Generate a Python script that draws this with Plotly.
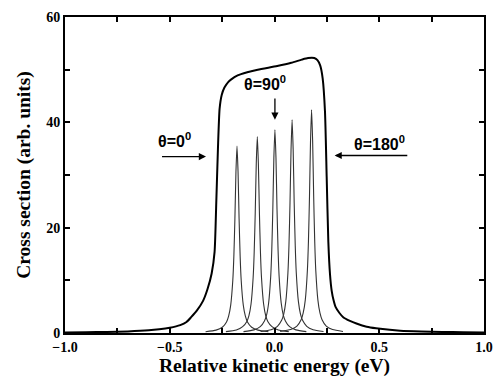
import plotly.graph_objects as go

# Envelope (total cross section)
env_x = [-1.0, -0.9, -0.8, -0.7, -0.6, -0.55, -0.5, -0.45, -0.42, -0.398, -0.37, -0.341,
         -0.32, -0.30, -0.286, -0.278, -0.27, -0.262, -0.252, -0.239, -0.222, -0.208,
         -0.176, -0.13, -0.08, 0.013, 0.08, 0.13, 0.16, 0.19, 0.205, 0.218, 0.23, 0.241,
         0.249, 0.257, 0.265, 0.273, 0.282, 0.292, 0.31, 0.328, 0.36, 0.391, 0.44, 0.485,
         0.55, 0.6, 0.7, 0.8, 0.9, 1.0]
env_y = [0.1, 0.15, 0.2, 0.3, 0.5, 0.7, 1.0, 1.5, 2.1, 3.0, 4.3, 6.1,
         8.3, 11.3, 15.4, 24.7, 35.0, 42.6, 45.2, 46.6, 47.6, 48.1,
         48.9, 49.5, 50.0, 50.7, 51.3, 51.9, 52.2, 52.2, 51.8, 50.8, 48.3, 42.0,
         29.7, 17.3, 11.1, 8.0, 6.2, 4.9, 3.8, 3.0, 2.3, 1.8, 1.2, 0.9,
         0.6, 0.45, 0.3, 0.2, 0.15, 0.1]

# Individual angle-resolved peaks
p1_x = [-0.329, -0.279, -0.249, -0.229, -0.219, -0.209, -0.199, -0.194, -0.189, -0.184, -0.179,
        -0.174, -0.169, -0.164, -0.159, -0.149, -0.139, -0.129, -0.109, -0.079, -0.029]
p1_y = [0.25, 0.55, 1.1, 2.1, 3.2, 5.3, 10.0, 14.6, 21.7, 30.6, 35.5,
        30.6, 21.7, 14.6, 10.0, 5.3, 3.2, 2.1, 1.1, 0.55, 0.25]
p2_x = [-0.232, -0.182, -0.152, -0.132, -0.122, -0.112, -0.102, -0.097, -0.092, -0.087, -0.082,
        -0.077, -0.072, -0.067, -0.062, -0.052, -0.042, -0.032, -0.012, 0.018, 0.068]
p2_y = [0.26, 0.57, 1.2, 2.2, 3.3, 5.5, 10.5, 15.3, 22.8, 32.2, 37.3,
        32.2, 22.8, 15.3, 10.5, 5.5, 3.3, 2.2, 1.2, 0.57, 0.26]
p3_x = [-0.148, -0.098, -0.068, -0.048, -0.038, -0.028, -0.018, -0.013, -0.008, -0.003, 0.002,
        0.007, 0.012, 0.017, 0.022, 0.032, 0.042, 0.052, 0.072, 0.102, 0.152]
p3_y = [0.27, 0.59, 1.2, 2.3, 3.4, 5.7, 10.8, 15.8, 23.5, 33.3, 38.6,
        33.3, 23.5, 15.8, 10.8, 5.7, 3.4, 2.3, 1.2, 0.59, 0.27]
p4_x = [-0.066, -0.016, 0.014, 0.034, 0.044, 0.054, 0.064, 0.069, 0.074, 0.079, 0.084,
        0.089, 0.094, 0.099, 0.104, 0.114, 0.124, 0.134, 0.154, 0.184, 0.234]
p4_y = [0.28, 0.62, 1.26, 2.4, 3.6, 6.0, 11.4, 16.6, 24.7, 34.9, 40.5,
        34.9, 24.7, 16.6, 11.4, 6.0, 3.6, 2.4, 1.26, 0.62, 0.28]
p5_x = [0.027, 0.077, 0.107, 0.127, 0.137, 0.147, 0.157, 0.162, 0.167, 0.172, 0.177,
        0.182, 0.187, 0.192, 0.197, 0.207, 0.217, 0.227, 0.247, 0.277, 0.327]
p5_y = [0.29, 0.65, 1.3, 2.5, 3.8, 6.3, 11.9, 17.4, 25.9, 36.5, 42.4,
        36.5, 25.9, 17.4, 11.9, 6.3, 3.8, 2.5, 1.3, 0.65, 0.29]

x_tickvals = [-1.0, -0.5, 0.0, 0.5, 1.0]
x_ticktext = ["\u22121.0", "\u22120.5", "0.0", "0.5", "1.0"]
x_minorvals = [-0.75, -0.25, 0.25, 0.75]
y_tickvals = [0, 20, 40, 60]
y_ticktext = ["0", "20", "40", "60"]
y_minorvals = [10, 30, 50]

fig = go.Figure()
for px, py in [(p1_x, p1_y), (p2_x, p2_y), (p3_x, p3_y), (p4_x, p4_y), (p5_x, p5_y)]:
    fig.add_trace(go.Scatter(x=px, y=py, mode="lines",
                             line=dict(color="#333333", width=1.1, shape="spline", smoothing=0.6),
                             showlegend=False, hoverinfo="skip"))
fig.add_trace(go.Scatter(x=env_x, y=env_y, mode="lines",
                         line=dict(color="black", width=2, shape="spline", smoothing=0.6),
                         showlegend=False, hoverinfo="skip"))

serif = "Liberation Serif, Times New Roman, serif"
sans = "Liberation Sans, Arial, sans-serif"

axis_common = dict(showline=True, linecolor="black", linewidth=2, mirror="allticks",
                   ticks="inside", ticklen=5, tickwidth=1.5, tickcolor="black",
                   showgrid=False, zeroline=False,
                   tickfont=dict(family=serif, size=14, color="black", weight="bold"))

fig.update_xaxes(range=[-1, 1], tickvals=x_tickvals, ticktext=x_ticktext,
                 minor=dict(tickvals=x_minorvals, ticks="inside", ticklen=5, tickwidth=1.5,
                            tickcolor="black", showgrid=False),
                 title=dict(text="<b>Relative kinetic energy (eV)</b>",
                            font=dict(family=serif, size=19.5, color="black"), standoff=5),
                 **axis_common)
fig.update_yaxes(range=[0, 60], tickvals=y_tickvals, ticktext=y_ticktext,
                 minor=dict(tickvals=y_minorvals, ticks="inside", ticklen=5, tickwidth=1.5,
                            tickcolor="black", showgrid=False),
                 title=dict(text="<b>Cross section (arb. units)</b>",
                            font=dict(family=serif, size=19.5, color="black"), standoff=10),
                 **axis_common)

arrows = [
    dict(x=-0.327, y=33.5, ax=-0.544, ay=33.5),
    dict(x=0.002, y=40.5, ax=0.002, ay=44.8),
    dict(x=0.287, y=33.7, ax=0.641, ay=33.7),
]
for a in arrows:
    fig.add_annotation(x=a["x"], y=a["y"], ax=a["ax"], ay=a["ay"], xref="x", yref="y",
                       axref="x", ayref="y", text="", showarrow=True, arrowhead=2,
                       arrowsize=1.1, arrowwidth=1.3, arrowcolor="black")

labels = [
    ("<b>\u03b8=0<sup>0</sup></b>", -0.478, 36.6),
    ("<b>\u03b8=90<sup>0</sup></b>", -0.046, 47.4),
    ("<b>\u03b8=180<sup>0</sup></b>", 0.50, 36.1),
]
for t, lx, ly in labels:
    fig.add_annotation(x=lx, y=ly, xref="x", yref="y", text=t, showarrow=False,
                       font=dict(family=sans, size=16, color="black"))

fig.update_layout(width=503, height=384, margin=dict(l=65, r=14, t=10, b=51),
                  plot_bgcolor="white", paper_bgcolor="white")

fig.write_html("out.html")
